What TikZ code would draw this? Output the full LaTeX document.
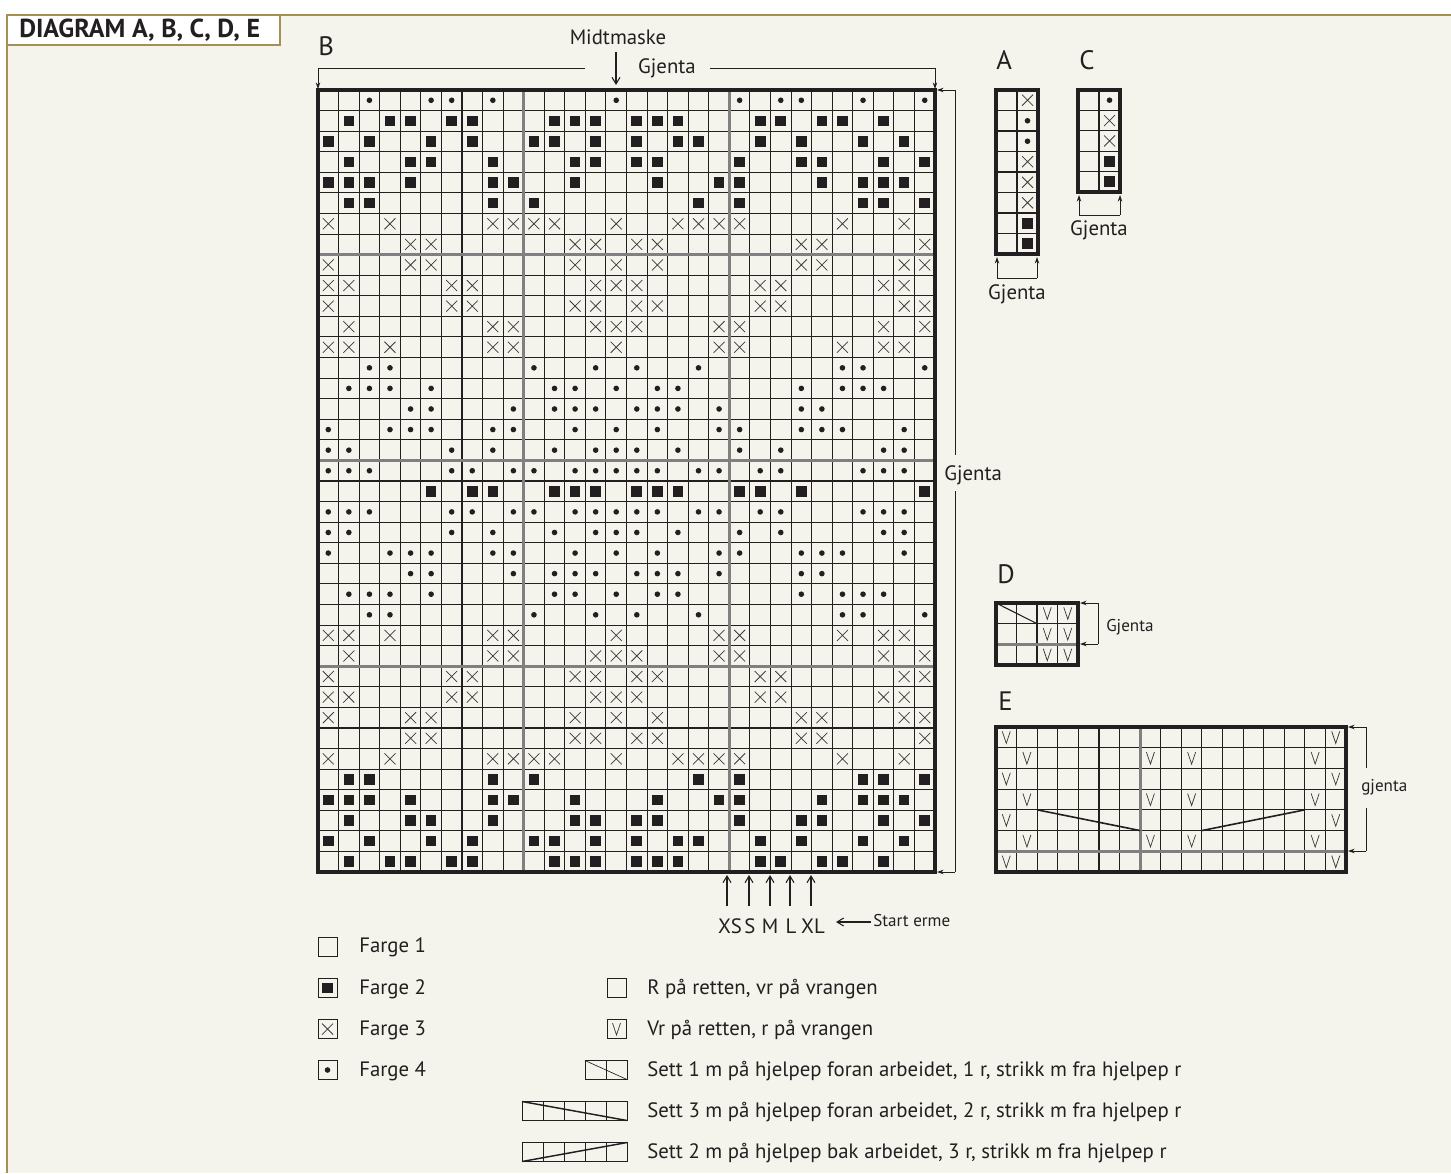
\documentclass[tikz,border=0pt]{standalone}
\usepackage{fontspec}
\setmainfont{PT Sans}
\usetikzlibrary{arrows.meta}
\definecolor{bg}{HTML}{F5F4EC}
\definecolor{gold}{HTML}{A68F55}
\definecolor{ink}{HTML}{231F20}
\definecolor{gridgrey}{HTML}{808080}
\definecolor{xgrey}{HTML}{3A3A3A}

\makeatletter
\newcount\chcolcnt
\newcommand\chrow[2]{\chcolcnt=0 \def\chrowidx{#1}\chr@w#2\@nil}
\def\chr@w#1{\ifx#1\@nil\else\chcell#1\advance\chcolcnt by 1 \expandafter\chr@w\fi}
\makeatother
\newcommand\chcell[1]{\ifx#1o\chdot\fi\ifx#1s\chsq\fi\ifx#1x\chcross\fi\ifx#1v\chvee\fi}
\newcommand\chpos{\pgfmathsetmacro\chcx{\chgx+(\the\chcolcnt+0.5)*\chgw}\pgfmathsetmacro\chcy{\chgy+(\chrowidx+0.5)*\chgh}}
\newcommand\chdot{\chpos\fill[ink] (\chcx,\chcy) circle[radius=2.8];}
\newcommand\chsq{\chpos\fill[ink] ({\chcx-5.3},{\chcy-5.3}) rectangle ({\chcx+5.3},{\chcy+5.3});}
\newcommand\chcross{\chpos\draw[xgrey,line width=0.55pt] ({\chcx-5.5},{\chcy-5.5}) -- ({\chcx+5.5},{\chcy+5.5}) ({\chcx-5.5},{\chcy+5.5}) -- ({\chcx+5.5},{\chcy-5.5});}
\newcommand\chvee{\chpos\draw[xgrey,line width=0.55pt] ({\chcx-4},{\chcy-6}) -- (\chcx,{\chcy+6}) -- ({\chcx+4},{\chcy-6});}

\begin{document}
\begin{tikzpicture}[x=0.75pt,y=-0.75pt,
  gline/.style={ink,line width=0.8pt},
  greyline/.style={gridgrey,line width=2.2pt},
  frameline/.style={ink,line width=2.4pt},
  lbl/.style={font=\fontsize{15.6}{18}\selectfont,text=ink,inner sep=0pt},
  lblsmall/.style={font=\fontsize{12.8}{15}\selectfont,text=ink,inner sep=0pt},
  lblbig/.style={font=\fontsize{20}{22}\selectfont,text=ink,inner sep=0pt},
  arrtip/.style={-{Stealth[length=5pt,width=3.4pt]},ink,line width=0.6pt},
  barb/.style={-{Straight Barb[length=5pt,width=6pt]},ink,line width=0.8pt},
  legline/.style={ink,line width=0.5pt},
]
\useasboundingbox (0,0) rectangle (1451,1173);
\fill[white] (0,0) rectangle (1451,1173);
\fill[bg] (7,15) rectangle (1451,1173);
\draw[gold,line width=1pt] (7,1173) -- (7,15) -- (1451,15);
\draw[gold,fill=white,line width=1pt] (7,15) rectangle (280,45);
\node[anchor=base west,inner sep=0pt,text=ink,font=\fontsize{19.5}{21}\selectfont\bfseries] (title) at (19,37.5) {DIAGRAM A, B, C, D, E};

% ---------- Chart B ----------
\foreach \i in {1,...,29} \draw[gline] ({318+\i*20.567},90) -- ({318+\i*20.567},872);
\foreach \j in {1,...,37} \draw[gline] (318,{90+\j*20.58}) -- (935,{90+\j*20.58});
\foreach \i in {10,20} \draw[greyline] ({318+\i*20.567},90) -- ({318+\i*20.567},872);
\foreach \j in {8,18,28} \draw[greyline] (318,{90+\j*20.58}) -- (935,{90+\j*20.58});
\draw[frameline] (318,90) rectangle (935,872);
\def\chgx{318}\def\chgy{90}\def\chgw{20.567}\def\chgh{20.58}
\chrow{0}{..o..oo.o.....o.....o.oo..o..o}
\chrow{1}{.s.ss.ss...sss.sss...ss.ss.s..}
\chrow{2}{s.s..s.s..ss.s.s.ss..s.s..s.s.}
\chrow{3}{.s..ss..s...ss.ss...s..ss..s.s}
\chrow{4}{sss.s...ss..s...s..ss...s.sss.}
\chrow{5}{.ss.....s.s.......s.s.....ss.s}
\chrow{6}{x..x....xxxx..x..xxxx....x..x.}
\chrow{7}{....xx......xx.xx......xx....x}
\chrow{8}{x...xx......x.x.x......xx...xx}
\chrow{9}{xx....xx.....xxx.....xx....xx.}
\chrow{10}{x.....xx....xx.xx....xx.....xx}
\chrow{11}{.x......xx...xxx...xx......x.x}
\chrow{12}{xx.x....xx....x....xx....x.xx.}
\chrow{13}{..oo......o..o.o..o......oo..o}
\chrow{14}{.ooo.o.....oo.o.oo.....o.ooo..}
\chrow{15}{....oo...o.ooo.ooo.o...oo.....}
\chrow{16}{o..ooo..oo..o.o.o..oo..ooo..o.}
\chrow{17}{oo....o.o..o.ooo.o..o.o....oo.}
\chrow{18}{ooo...oo.oo.ooooo.oo.oo...ooo.}
\chrow{19}{.....s.ss..sss.sss..ss.s.....s}
\chrow{20}{ooo...oo.oo.ooooo.oo.oo...ooo.}
\chrow{21}{oo....o.o..o.ooo.o..o.o....oo.}
\chrow{22}{o..ooo..oo..o.o.o..oo..ooo..o.}
\chrow{23}{....oo...o.ooo.ooo.o...oo.....}
\chrow{24}{.ooo.o.....oo.o.oo.....o.ooo..}
\chrow{25}{..oo......o..o.o..o......oo..o}
\chrow{26}{xx.x....xx....x....xx....x.xx.}
\chrow{27}{.x......xx...xxx...xx......x.x}
\chrow{28}{x.....xx....xx.xx....xx.....xx}
\chrow{29}{xx....xx.....xxx.....xx....xx.}
\chrow{30}{x...xx......x.x.x......xx...xx}
\chrow{31}{....xx......xx.xx......xx....x}
\chrow{32}{x..x....xxxx..x..xxxx....x..x.}
\chrow{33}{.ss.....s.s.......s.s.....ss.s}
\chrow{34}{sss.s...ss..s...s..ss...s.sss.}
\chrow{35}{.s..ss..s...ss.ss...s..ss..s.s}
\chrow{36}{s.s..s.s..ss.s.s.ss..s.s..s.s.}
\chrow{37}{.s.ss.ss...sss.sss...ss.ss.s..}

\node[lblbig,anchor=base west] (labB) at (318,56) {B};
\node[lbl,anchor=base] (midt) at (618,45) {Midtmaske};
\coordinate (midtA) at (616,52);
\coordinate (midtB) at (616,85);
\draw[barb] (midtA) -- (midtB);
\node[lbl,anchor=base] (gjtop) at (667,74) {Gjenta};
\coordinate (tl) at (318,68); \coordinate (tlm) at (585,68);
\coordinate (trm) at (710,68); \coordinate (tr) at (935,68);
\coordinate (tlb) at (318,89); \coordinate (trb) at (935,89);
\draw[legline] (tlm) -- (tl);
\draw[arrtip] (tl) -- (tlb);
\draw[legline] (trm) -- (tr);
\draw[arrtip] (tr) -- (trb);
% right bracket
\node[lbl,anchor=base west] (gjright) at (944,480) {Gjenta};
\coordinate (rt) at (955,90); \coordinate (rb) at (955,872);
\coordinate (rtm) at (955,455); \coordinate (rbm) at (955,491);
\coordinate (rtt) at (937,90); \coordinate (rbt) at (937,872);
\draw[legline] (rtm) -- (rt); \draw[arrtip] (rt) -- (rtt);
\draw[legline] (rbm) -- (rb); \draw[arrtip] (rb) -- (rbt);

% sizes
\foreach \xx/\nm in {727/XS,749/S,770/M,790/L,811/XL}{
  \coordinate (sz\nm a) at (\xx,906);
  \coordinate (sz\nm b) at (\xx,875);
  \draw[barb] (sz\nm a) -- (sz\nm b);
}
\node[lbl,anchor=base] (tXS) at (730,933) {XS};
\node[lbl,anchor=base] (tS) at (750,933) {S};
\node[lbl,anchor=base] (tM) at (770,933) {M};
\node[lbl,anchor=base] (tL) at (791,933) {L};
\node[lbl,anchor=base] (tXL) at (813,933) {XL};
\node[lblsmall,anchor=base west] (start) at (873,926) {Start erme};
\coordinate (stA) at (871,922); \coordinate (stB) at (836,922);
\draw[barb] (stA) -- (stB);

% ---------- Chart A ----------
\node[lblbig,anchor=base west] (labA) at (996,70) {A};
\draw[gline] (1017,90) -- (1017,254);
\foreach \j in {1,...,7} \draw[gline] (996,{90+\j*20.5}) -- (1038,{90+\j*20.5});
\draw[frameline] (996,90) rectangle (1038,254);
\def\chgx{996}\def\chgy{90}\def\chgw{21}\def\chgh{20.5}
\chrow{0}{.x}\chrow{1}{.o}\chrow{2}{.o}\chrow{3}{.x}\chrow{4}{.x}\chrow{5}{.x}\chrow{6}{.s}\chrow{7}{.s}
\coordinate (aL) at (997,278); \coordinate (aR) at (1037,278);
\coordinate (aLt) at (997,257); \coordinate (aRt) at (1037,257);
\draw[legline] (aL) -- (aR);
\draw[arrtip] (aL) -- (aLt); \draw[arrtip] (aR) -- (aRt);
\node[lbl,anchor=base] (gjA) at (1017,299) {Gjenta};

% ---------- Chart C ----------
\node[lblbig,anchor=base west] (labC) at (1079,70) {C};
\draw[gline] (1099,90) -- (1099,192);
\foreach \j in {1,...,4} \draw[gline] (1078,{90+\j*20.4}) -- (1120,{90+\j*20.4});
\draw[frameline] (1078,90) rectangle (1120,192);
\def\chgx{1078}\def\chgy{90}\def\chgw{21}\def\chgh{20.4}
\chrow{0}{.o}\chrow{1}{.x}\chrow{2}{.x}\chrow{3}{.s}\chrow{4}{.s}
\coordinate (cL) at (1079,215); \coordinate (cR) at (1120,215);
\coordinate (cLt) at (1079,195); \coordinate (cRt) at (1120,195);
\draw[legline] (cL) -- (cR);
\draw[arrtip] (cL) -- (cLt); \draw[arrtip] (cR) -- (cRt);
\node[lbl,anchor=base] (gjC) at (1099,236) {Gjenta};

% ---------- Chart D ----------
\node[lblbig,anchor=base west] (labD) at (997,583) {D};
\foreach \i in {1,2,3} \draw[gline] ({996+\i*20.5},603) -- ({996+\i*20.5},665);
\draw[gline] (996,623.67) -- (1078,623.67);
\draw[greyline] (996,644.33) -- (1078,644.33);
\draw[gline] (996,603) -- (1037,623.67);
\draw[frameline] (996,603) rectangle (1078,665);
\def\chgx{996}\def\chgy{603}\def\chgw{20.5}\def\chgh{20.67}
\chrow{0}{..vv}\chrow{1}{..vv}\chrow{2}{..vv}
\coordinate (dT) at (1098,603); \coordinate (dB) at (1098,644);
\coordinate (dTt) at (1080,603); \coordinate (dBt) at (1080,644);
\draw[legline] (dT) -- (dB);
\draw[arrtip] (dT) -- (dTt); \draw[arrtip] (dB) -- (dBt);
\node[lblsmall,anchor=base west] (gjD) at (1106,631) {Gjenta};

% ---------- Chart E ----------
\node[lblbig,anchor=base west] (labE) at (998,710) {E};
\foreach \i in {1,...,16} \draw[gline] ({996+\i*20.59},727) -- ({996+\i*20.59},872);
\foreach \j in {1,...,6} \draw[gline] (996,{727+\j*20.71}) -- (1346,{727+\j*20.71});
\draw[greyline] ({996+7*20.59},727) -- ({996+7*20.59},872);
\draw[greyline] (996,{727+6*20.71}) -- (1346,{727+6*20.71});
\draw[ink,line width=1.2pt] ({996+2*20.59},{727+4*20.71}) -- ({996+7*20.59},{727+5*20.71});
\draw[ink,line width=1.2pt] ({996+10*20.59},{727+5*20.71}) -- ({996+15*20.59},{727+4*20.71});
\draw[frameline] (996,727) rectangle (1346,872);
\def\chgx{996}\def\chgy{727}\def\chgw{20.59}\def\chgh{20.71}
\chrow{0}{v...............v}
\chrow{1}{.v.....v.v.....v.}
\chrow{2}{v...............v}
\chrow{3}{.v.....v.v.....v.}
\chrow{4}{v...............v}
\chrow{5}{.v.....v.v.....v.}
\chrow{6}{v...............v}
\coordinate (eT) at (1366,727); \coordinate (eB) at (1366,851);
\coordinate (eTm) at (1366,768); \coordinate (eBm) at (1366,808);
\coordinate (eTt) at (1348,727); \coordinate (eBt) at (1348,851);
\draw[legline] (eTm) -- (eT); \draw[arrtip] (eT) -- (eTt);
\draw[legline] (eBm) -- (eB); \draw[arrtip] (eB) -- (eBt);
\node[lblsmall,anchor=base west] (gjE) at (1361,791) {gjenta};

% ---------- Legend ----------
\foreach \yy in {937,978.5,1019.5,1060.5} \draw[legline] (318,\yy) rectangle ++(19,19);
\def\chgx{318}\def\chgw{19}\def\chgh{19}
\def\chgy{978.5}\chrow{0}{s}
\def\chgy{1019.5}\chrow{0}{x}
\def\chgy{1060.5}\chrow{0}{o}
\node[lbl,anchor=base west] (f1) at (359,952.5) {Farge 1};
\node[lbl,anchor=base west] (f2) at (359,994.5) {Farge 2};
\node[lbl,anchor=base west] (f3) at (359,1035.5) {Farge 3};
\node[lbl,anchor=base west] (f4) at (359,1076.5) {Farge 4};

\draw[legline] (607,978.5) rectangle ++(19,19);
\draw[legline] (607,1019.5) rectangle ++(19,19);
\def\chgx{607}\def\chgy{1019.5}\chrow{0}{v}
\draw[legline] (585,1060.5) rectangle (627,1079.5);
\draw[legline] (606,1060.5) -- (606,1079.5);
\draw[legline] (585,1060.5) -- (627,1079.5);
\draw[legline] (522,1101.5) rectangle (627,1120.5);
\foreach \xx in {543,564,585,606} \draw[legline] (\xx,1101.5) -- (\xx,1120.5);
\draw[ink,line width=1.1pt] (522,1101.5) -- (627,1120.5);
\draw[legline] (522,1142.5) rectangle (627,1161.5);
\foreach \xx in {543,564,585,606} \draw[legline] (\xx,1142.5) -- (\xx,1161.5);
\draw[ink,line width=1.1pt] (522,1161.5) -- (627,1142.5);

\node[lbl,anchor=base west] (l1) at (647,994.5) {R på retten, vr på vrangen};
\node[lbl,anchor=base west] (l2) at (647,1035.5) {Vr på retten, r på vrangen};
\node[lbl,anchor=base west] (l3) at (647,1076.5) {Sett 1 m på hjelpep foran arbeidet, 1 r, strikk m fra hjelpep r};
\node[lbl,anchor=base west] (l4) at (647,1117.5) {Sett 3 m på hjelpep foran arbeidet, 2 r, strikk m fra hjelpep r};
\node[lbl,anchor=base west] (l5) at (647,1158.5) {Sett 2 m på hjelpep bak arbeidet, 3 r, strikk m fra hjelpep r};
\end{tikzpicture}
\end{document}
